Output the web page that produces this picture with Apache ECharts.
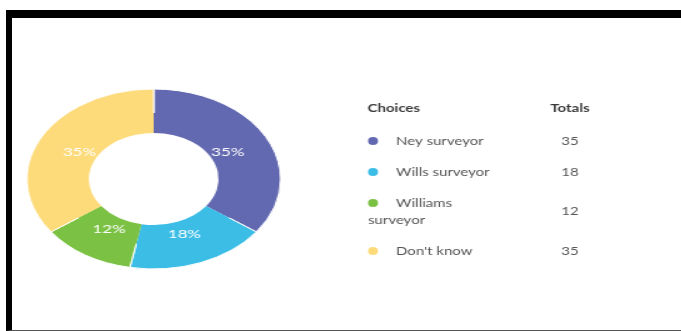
<!DOCTYPE html>
<html>
<head>
<meta charset="utf-8">
<script src="https://cdn.jsdelivr.net/npm/echarts@6/dist/echarts.min.js"></script>
<style>
  html, body { margin: 0; padding: 0; background: #fff; }
  body { width: 681px; height: 331px; position: relative; overflow: hidden; }
  .frame {
    position: absolute; left: 6px; top: 10px; width: 675px; height: 321px;
    box-sizing: border-box;
    border-top: 8px solid #000; border-left: 6px solid #000; border-bottom: 1px solid #555;
  }
  /* the picture is stretched sideways, so each chart is scaled on x */
  #pie { position: absolute; left: 0; top: 0; width: 240px; height: 331px;
    transform: scaleX(1.41); transform-origin: 0 0; }
  #table { position: absolute; left: 340px; top: 0; width: 273px; height: 331px;
    transform: scaleX(1.25); transform-origin: 0 0; }
</style>
</head>
<body>
<div class="frame"></div>
<div id="pie"></div>
<div id="table"></div>
<script>
// data
const choices = ["Ney surveyor", "Wills surveyor", "Williams surveyor", "Don't know"];
const totals = [35, 18, 12, 35];
const colors = ["#6369b0", "#3cbde6", "#7bc143", "#fddb7a"];
const headers = ["Choices", "Totals"];

const font = "Lato, 'Noto Sans', sans-serif";
const pieData = choices.map((name, i) => ({ name, value: totals[i], itemStyle: { color: colors[i] } }));

// donut
const pieChart = echarts.init(document.getElementById("pie"));
pieChart.setOption({
  animation: false,
  series: [
    {
      type: "pie",
      center: [109, 179],
      radius: [50, 90],
      startAngle: 90,
      data: pieData,
      itemStyle: { borderColor: "#fff", borderWidth: 1 },
      label: { show: false },
      labelLine: { show: false },
      silent: true,
    },
    {
      // label ring (sits a bit inside the middle of the donut)
      type: "pie",
      center: [109, 179],
      radius: [46, 66],
      startAngle: 90,
      data: pieData,
      itemStyle: { color: "rgba(0,0,0,0)" },
      label: {
        show: true,
        position: "inside",
        formatter: "{d}%",
        color: "#fff",
        fontFamily: font,
        fontSize: 12,
      },
      labelLine: { show: false },
      avoidLabelOverlap: false,
      silent: true,
    },
  ],
});

// choices / totals table
const wrapName = (s) => {
  if (s.length <= 14) return [s];
  const k = s.lastIndexOf(" ");
  return [s.slice(0, k), s.slice(k + 1)];
};

const graphics = [];
const text = (str, x, y, opts) => ({
  type: "text",
  x, y,
  silent: true,
  style: Object.assign({
    text: str,
    fontFamily: font,
    fontSize: 12,
    fill: "#555",
    align: "left",
    textAlign: "left",
    verticalAlign: "middle",
    textVerticalAlign: "middle",
  }, opts || {}),
});

graphics.push(text(headers[0], 22, 108, { fontWeight: 700, fill: "#3a3a3a" }));
graphics.push(text(headers[1], 184, 108, { fontWeight: 700, fill: "#3a3a3a", align: "center", textAlign: "center" }));

let y = 141;
choices.forEach((name, i) => {
  const lines = wrapName(name);
  graphics.push({
    type: "circle",
    silent: true,
    shape: { cx: 26.4, cy: y, r: 4 },
    style: { fill: colors[i] },
  });
  lines.forEach((ln, j) => {
    graphics.push(text(ln, j === 0 ? 44.8 : 22.4, y + j * 17));
  });
  graphics.push(text(String(totals[i]), 184, y + (lines.length - 1) * 8.5,
    { align: "center", textAlign: "center" }));
  y += 31 + (lines.length - 1) * 17;
});

const tableChart = echarts.init(document.getElementById("table"));
tableChart.setOption({ animation: false, graphic: { elements: graphics } });
</script>
</body>
</html>
